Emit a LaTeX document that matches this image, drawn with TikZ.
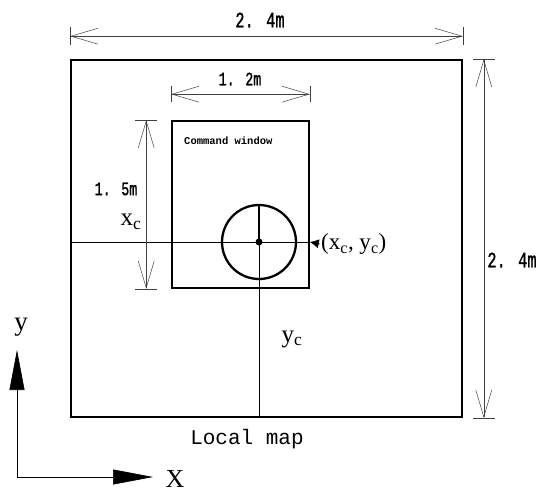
\documentclass[tikz,border=0pt]{standalone}
\usepackage{fontspec}
\setmainfont{Liberation Serif}
\newfontfamily\dimfont[FakeStretch=0.7,FakeBold=1.2]{Liberation Mono}
\newfontfamily\mapfont{Liberation Mono}
\usetikzlibrary{arrows.meta}

\begin{document}
\begin{tikzpicture}[x=1pt,y=-1pt,
  mapbox/.style={draw,line width=1.6pt,inner sep=0pt},
  dimline/.style={line width=0.5pt,black!75,{Straight Barb[length=27pt,width=16pt]}-{Straight Barb[length=27pt,width=16pt]}},
  dimtick/.style={line width=0.6pt,black!75},
  dimlabel/.style={inner sep=1pt,font=\dimfont\fontsize{19}{20}\selectfont},
  thinline/.style={line width=0.6pt},
  axis/.style={line width=0.6pt,-{Triangle[length=40pt,width=15pt]}}]
  \useasboundingbox (0,0) rectangle (544,495);
  % map, command window and robot
  \node[mapbox,minimum width=391pt,minimum height=357pt] (map) at (266.5,238.5) {};
  \node[mapbox,minimum width=137pt,minimum height=167pt] (win) at (240.5,204.5) {};
  \node[anchor=north west,inner sep=0pt,font=\mapfont\bfseries\fontsize{10.5}{11}\selectfont] (wintext) at (184,137) {Command window};
  \coordinate (c) at (259,242);
  \node[circle,draw,line width=2.3pt,minimum size=74pt,inner sep=0pt] (robot) at (c) {};
  \fill (c) circle (3.5);
  \draw[line width=2pt] (c) -- (robot.north);
  \draw[thinline] (map.west |- c) -- (win.east |- c);
  \draw[thinline] (c) -- (c |- map.south);
  \node[anchor=west,inner sep=1pt,font=\fontsize{23}{24}\selectfont] (pos) at (320,244) {(x\textsubscript{c}, y\textsubscript{c})};
  \draw[thinline,-{Latex[length=9pt,width=9pt]}] (pos.west) -- (win.east |- c);
  \node[inner sep=0pt,font=\fontsize{25}{26}\selectfont] (xc) at (131,222) {x\textsubscript{c}};
  \node[inner sep=0pt,font=\fontsize{25}{26}\selectfont] (yc) at (292,339) {y\textsubscript{c}};
  \node[font=\mapfont\fontsize{21}{22}\selectfont] (maplabel) at (247,439) {Local map};
  % dimensions
  \coordinate (t1) at ([yshift=23pt]map.north west);
  \coordinate (t2) at ([yshift=23pt]map.north east);
  \draw[dimline] (t1) -- (t2);
  \draw[dimtick] ([yshift=-9pt]t1) -- ([yshift=9pt]t1);
  \draw[dimtick] ([yshift=-9pt]t2) -- ([yshift=9pt]t2);
  \node[dimlabel,font=\dimfont\fontsize{22}{23}\selectfont] (dtop) at (260,20) {2. 4m};
  \coordinate (r1) at ([xshift=21pt]map.north east);
  \coordinate (r2) at ([xshift=21pt]map.south east);
  \draw[dimline] (r1) -- (r2);
  \draw[dimtick] ([xshift=-11pt]r1) -- ([xshift=11pt]r1);
  \draw[dimtick] ([xshift=-11pt]r2) -- ([xshift=11pt]r2);
  \node[dimlabel,font=\dimfont\fontsize{22}{23}\selectfont] (dright) at (512,260) {2. 4m};
  \coordinate (w1) at ([yshift=26pt]win.north west);
  \coordinate (w2) at ([yshift=26pt]win.north east);
  \draw[dimline] (w1) -- (w2);
  \draw[dimtick] ([yshift=-8pt]w1) -- ([yshift=8pt]w1);
  \draw[dimtick] ([yshift=-8pt]w2) -- ([yshift=8pt]w2);
  \node[dimlabel] (dwin) at (240,79) {1. 2m};
  \coordinate (h1) at ([xshift=-25pt]win.north west);
  \coordinate (h2) at ([xshift=-25pt]win.south west);
  \draw[dimline] (h1) -- (h2);
  \draw[dimtick] ([xshift=-11pt]h1) -- ([xshift=11pt]h1);
  \draw[dimtick] ([xshift=-11pt]h2) -- ([xshift=11pt]h2);
  \node[dimlabel] (dhgt) at (116,189) {1. 5m};
  % axes
  \coordinate (o) at (17,477);
  \coordinate (ytip) at (17,350);
  \coordinate (xtip) at (153,477);
  \draw[axis] (o) -- (ytip);
  \draw[axis] (o) -- (xtip);
  \node[font=\fontsize{27}{28}\selectfont] (ylab) at (21,327) {y};
  \node[font=\fontsize{26}{28}\selectfont] (xlab) at (175,479) {X};
\end{tikzpicture}
\end{document}
